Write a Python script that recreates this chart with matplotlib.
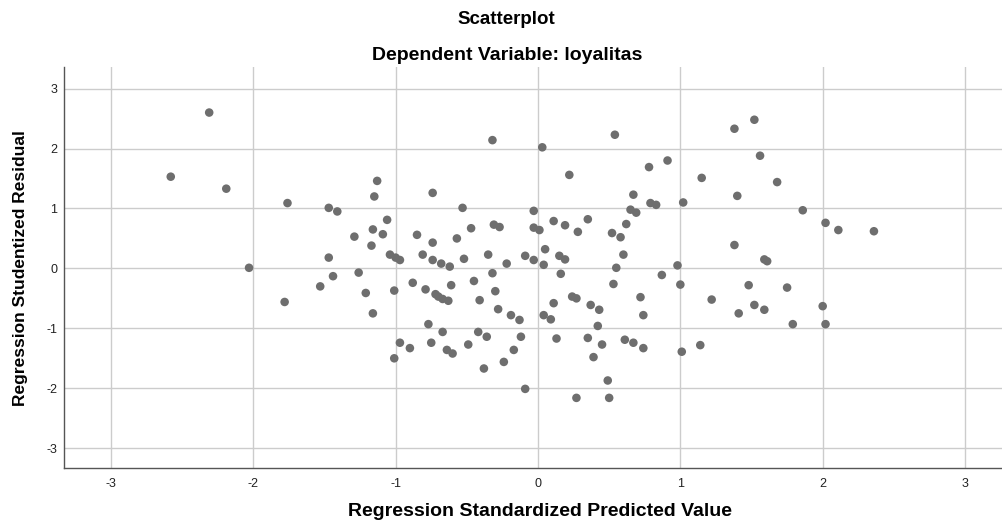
import matplotlib
matplotlib.use("Agg")
import matplotlib.pyplot as plt

title = "Scatterplot"
subtitle = "Dependent Variable: loyalitas"
xlabel = "Regression Standardized Predicted Value"
ylabel = "Regression Studentized Residual"
ticks = [-3, -2, -1, 0, 1, 2, 3]

pred = [-2.31, -2.58, -2.19, -1.76, -2.03, -1.78, -0.32, -1.13, -1.15, -0.74,
        -1.47, -1.41, -0.53, -1.06, -1.16, -1.09, -1.29, -1.17, -1.47, -0.85,
        -0.74, -0.57, -0.47, -0.31, -0.27, -0.35, -0.52, -0.22, -0.09, -1.04,
        -1.00, -0.97, -0.81, -0.74, -0.68, -0.62, -1.44, -1.53, -1.26, -1.21,
        -1.16, -1.01, -0.88, -0.79, -0.72, -0.70, -0.67, -0.63, -0.61, -0.45,
        -0.32, -0.30, -0.41, -0.28, -0.19, -0.13, -0.77, -0.67, -0.42, -0.36,
        -0.12, -0.97, -0.90, -0.75, -0.64, -0.60, -0.49, -0.17, -1.01, -0.24,
        -0.38, -0.09, 0.54, 0.03, 0.22, 1.38, 1.52, 1.56, 0.91, 0.78,
        1.15, 1.40, 0.67, 0.79, 0.83, 1.02, 0.65, 0.69, 0.62, 0.52,
        0.58, -0.03, -0.03, 0.01, 0.11, 0.19, 0.28, 0.35, 0.05, -0.03,
        0.15, 0.19, 0.04, 0.60, 0.55, 0.98, 1.38, 1.68, 1.86, 2.02,
        2.11, 2.36, 1.59, 1.61, 0.16, 0.53, 0.87, 1.00, 1.48, 1.22,
        1.41, 1.52, 0.04, 0.09, 0.11, 0.24, 0.27, 0.37, 0.43, 0.42,
        0.13, 0.35, 0.45, 0.39, 0.61, 0.67, 0.74, 0.72, 0.74, 1.01,
        1.14, 0.49, 0.27, 0.50, 1.75, 1.59, 2.00, 1.79, 2.02]

resid = [2.60, 1.53, 1.33, 1.09, 0.01, -0.56, 2.14, 1.46, 1.20, 1.26,
         1.01, 0.95, 1.01, 0.81, 0.65, 0.57, 0.53, 0.38, 0.18, 0.56,
         0.43, 0.50, 0.67, 0.73, 0.69, 0.23, 0.16, 0.08, 0.21, 0.23,
         0.18, 0.14, 0.23, 0.14, 0.08, 0.03, -0.13, -0.30, -0.07, -0.41,
         -0.75, -0.37, -0.24, -0.35, -0.43, -0.47, -0.51, -0.54, -0.28, -0.21,
         -0.08, -0.38, -0.53, -0.68, -0.78, -0.86, -0.93, -1.06, -1.06, -1.14,
         -1.14, -1.24, -1.33, -1.24, -1.36, -1.42, -1.27, -1.36, -1.50, -1.56,
         -1.67, -2.01, 2.23, 2.02, 1.56, 2.33, 2.48, 1.88, 1.80, 1.69,
         1.51, 1.21, 1.23, 1.09, 1.06, 1.10, 0.98, 0.93, 0.74, 0.59,
         0.52, 0.96, 0.68, 0.64, 0.79, 0.72, 0.61, 0.82, 0.32, 0.14,
         0.21, 0.15, 0.06, 0.23, 0.01, 0.05, 0.39, 1.44, 0.97, 0.76,
         0.64, 0.62, 0.15, 0.12, -0.09, -0.26, -0.11, -0.27, -0.28, -0.52,
         -0.75, -0.61, -0.78, -0.85, -0.58, -0.47, -0.50, -0.61, -0.69, -0.96,
         -1.17, -1.16, -1.27, -1.48, -1.19, -1.24, -1.33, -0.48, -0.78, -1.39,
         -1.28, -1.87, -2.16, -2.16, -0.32, -0.69, -0.63, -0.93, -0.93]

plt.rcParams['font.family'] = ['Liberation Sans', 'DejaVu Sans']

W, H = 1003, 523
fig = plt.figure(figsize=(W / 100, H / 100), dpi=100)
ax = fig.add_axes([64 / W, 55 / H, (1012 - 64) / W, (468 - 67) / H])

ax.scatter(pred, resid, s=38, color='#6e6e6e', edgecolors='none', zorder=3)

ax.set_xlim(-3.33, 3.33)
ax.set_ylim(-3.33, 3.36)
ax.set_xticks(ticks)
ax.set_yticks(ticks)
ax.set_xticklabels([str(t) for t in ticks])
ax.set_yticklabels([str(t) for t in ticks])
ax.grid(True, color='#cccccc', linewidth=1.0, zorder=0)
ax.set_axisbelow(True)
for s in ['top', 'right']:
    ax.spines[s].set_visible(False)
for s in ['left', 'bottom']:
    ax.spines[s].set_color('#555555')
    ax.spines[s].set_linewidth(1.0)
ax.tick_params(axis='x', length=0, labelsize=9, colors='#222222', pad=7)
ax.tick_params(axis='y', length=0, labelsize=9, colors='#222222', pad=5)

fig.text(540 / W, 1 - 511 / H, xlabel, ha='center', va='center',
         fontsize=14, fontweight='bold')
fig.text(21 / W, 1 - 268 / H, ylabel, ha='center', va='center',
         rotation=90, fontsize=12.5, fontweight='bold')

fig.text(506 / W, 1 - 20 / H, title, ha='center', va='center', fontsize=13.5, fontweight='bold')
fig.text(507 / W, 1 - 55 / H, subtitle, ha='center', va='center', fontsize=14, fontweight='bold')

fig.savefig("out.png", dpi=100)
